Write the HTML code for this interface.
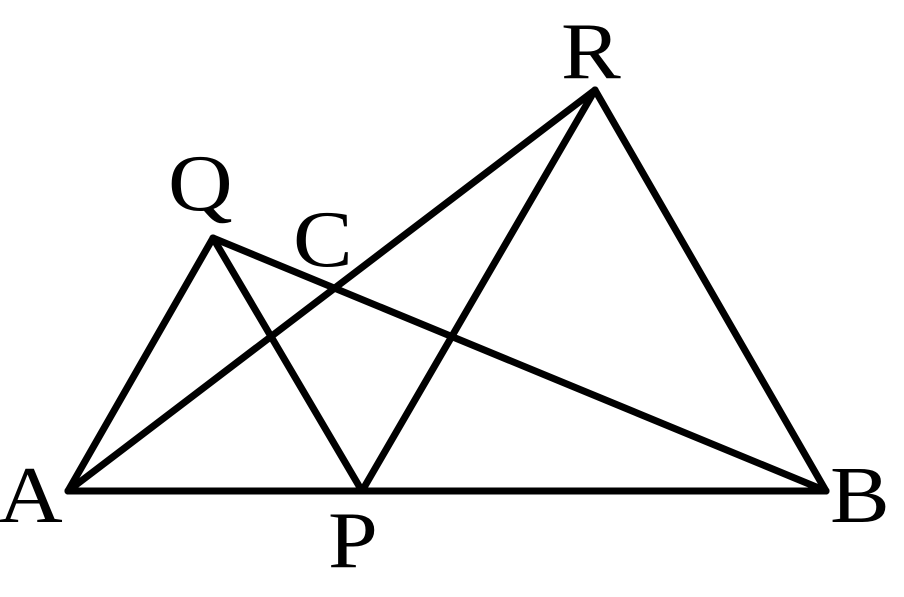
<!DOCTYPE html>
<html><head><meta charset="utf-8"><style>
html,body{margin:0;padding:0;background:#fff;}
svg{display:block;}
text{font-family:"Liberation Serif",serif;font-size:80px;fill:#000;}
</style></head><body>
<svg width="904" height="597" viewBox="0 0 904 597" xmlns="http://www.w3.org/2000/svg">
<g stroke="#000" stroke-width="7" stroke-linecap="round" stroke-linejoin="round" fill="none">
<line x1="68" y1="491" x2="826" y2="491"/>
<line x1="68" y1="491" x2="213" y2="238"/>
<line x1="213" y1="238" x2="362" y2="491"/>
<line x1="68" y1="491" x2="595" y2="90"/>
<line x1="362" y1="491" x2="595" y2="90"/>
<line x1="595" y1="90" x2="826" y2="491"/>
<line x1="213" y1="238" x2="826" y2="491"/>
</g>
<text transform="translate(561,78) scale(1.12,1)">R</text>
<text transform="translate(168,210) scale(1.12,1)">Q</text>
<text transform="translate(293,266) scale(1.12,1)">C</text>
<text transform="translate(-2,522) scale(1.12,1)">A</text>
<text transform="translate(830,522) scale(1.12,1)">B</text>
<text transform="translate(328,567) scale(1.12,1)">P</text>
</svg>
</body></html>
